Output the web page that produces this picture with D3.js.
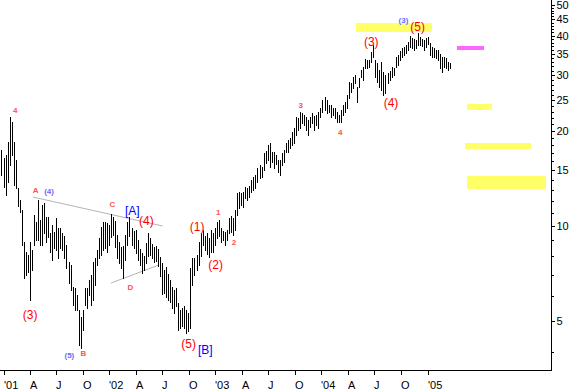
<!DOCTYPE html>
<html>
<head>
<meta charset="utf-8">
<script src="https://cdn.jsdelivr.net/npm/d3@7"></script>
<style>
  body { margin: 0; background: #fff; }
  svg { display: block; }
  text { font-family: Arial, "Liberation Sans", sans-serif; }
</style>
</head>
<body>
<svg width="571" height="390"></svg>
<script>
// weekly bars, first week starting 2000-12-25
var firstWeek = "2000-12-25";

var highs = [
  17.38, 16.40, 16.76, 18.42, 22.10, 21.31, 18.42, 16.16, 13.18, 12.07,
  11.22, 8.89, 8.27, 8.09, 8.89, 8.39, 10.82, 10.28, 12.07, 10.43,
  11.64, 11.81, 10.66, 10.66, 9.49, 10.06, 9.56, 10.59, 9.84, 9.84,
  9.49, 9.28, 8.70, 7.69, 7.52, 6.41, 6.36, 6.04, 5.42, 5.14,
  5.42, 6.36, 6.36, 6.74, 6.99, 7.69, 7.91, 8.39, 9.15, 9.91,
  10.28, 10.28, 10.20, 10.06, 10.90, 10.66, 10.35, 9.35, 8.89, 8.57,
  8.64, 9.35, 10.28, 10.66, 9.84, 9.63, 9.70, 9.02, 8.45, 8.21,
  8.03, 8.82, 9.49, 9.15, 8.76, 8.57, 8.64, 8.45, 7.97, 7.63,
  7.25, 7.41, 7.04, 6.74, 6.41, 6.27, 6.36, 5.70, 5.42, 5.50,
  5.58, 5.42, 5.30, 7.36, 7.91, 7.91, 8.09, 8.89, 9.49, 9.70,
  9.28, 9.49, 9.15, 9.70, 9.49, 9.84, 10.28, 10.43, 9.84, 9.63,
  9.56, 9.70, 10.59, 10.74, 10.59, 11.22, 12.70, 12.79, 12.70, 12.79,
  13.27, 13.18, 13.37, 13.97, 14.27, 14.48, 15.24, 15.58, 15.35, 17.00,
  17.25, 18.02, 18.28, 17.13, 17.13, 16.76, 16.16, 16.16, 17.00, 17.38,
  18.28, 18.69, 18.96, 19.81, 20.40, 22.10, 21.94, 22.92, 22.75, 22.43,
  22.10, 21.62, 22.10, 22.75, 22.27, 22.43, 22.92, 23.60, 25.02, 25.56,
  25.02, 24.12, 24.12, 23.60, 23.60, 22.92, 22.43, 23.26, 24.12, 24.66,
  25.94, 28.52, 28.31, 29.58, 30.02, 27.50, 29.37, 31.13, 31.82, 33.73,
  33.49, 33.49, 35.50, 37.36, 33.49, 32.76, 31.13, 33.00, 30.68, 30.02,
  30.45, 30.90, 31.82, 31.59, 34.23, 34.73, 35.76, 36.55, 36.82, 37.36,
  38.19, 39.90, 39.32, 39.03, 38.75, 40.77, 39.61, 39.03, 38.75, 39.32,
  39.61, 37.91, 36.82, 36.55, 36.02, 36.02, 34.98, 34.23, 34.23, 33.98,
  33.00, 32.76
];

var lows = [
  14.48, 13.27, 12.52, 13.77, 15.58, 16.76, 13.47, 13.18, 11.56, 11.06,
  8.70, 6.84, 6.99, 7.14, 5.83, 7.25, 8.70, 9.02, 9.02, 8.70,
  8.70, 9.49, 8.89, 9.21, 8.27, 7.80, 8.51, 8.39, 7.91, 8.51,
  8.39, 7.91, 7.36, 6.59, 6.27, 5.62, 5.42, 5.42, 4.20, 4.11,
  4.68, 5.62, 5.50, 6.04, 5.62, 5.83, 6.50, 7.52, 7.91, 8.09,
  8.39, 8.51, 8.27, 8.70, 9.21, 9.35, 8.57, 7.91, 7.63, 7.36,
  6.84, 7.80, 8.70, 9.28, 8.70, 8.51, 8.21, 7.80, 7.52, 7.09,
  7.25, 7.63, 8.03, 8.09, 7.91, 7.69, 7.74, 7.47, 6.94, 6.09,
  6.13, 5.95, 5.83, 5.75, 5.50, 5.30, 5.58, 4.68, 4.75, 4.82,
  4.75, 4.58, 4.65, 4.75, 6.50, 6.99, 7.25, 7.52, 8.03, 8.70,
  8.39, 8.15, 7.97, 8.27, 8.27, 8.70, 9.15, 9.28, 8.89, 9.02,
  8.70, 9.02, 9.49, 9.56, 9.35, 9.70, 10.82, 11.39, 11.64, 11.47,
  12.25, 12.07, 12.34, 12.79, 12.98, 13.18, 13.77, 14.17, 14.27, 15.02,
  15.81, 16.16, 15.35, 15.93, 15.24, 15.69, 14.80, 14.48, 15.58, 15.93,
  17.13, 17.13, 17.63, 18.02, 18.28, 19.38, 20.10, 20.40, 21.15, 20.85,
  20.10, 19.38, 20.55, 21.15, 20.10, 20.85, 20.40, 22.10, 22.92, 23.26,
  22.75, 22.92, 22.10, 22.43, 21.94, 21.31, 21.31, 21.31, 22.43, 22.92,
  23.60, 25.38, 26.52, 27.30, 28.31, 24.66, 27.50, 29.58, 28.94, 31.59,
  31.59, 31.82, 33.00, 34.23, 29.58, 28.52, 27.50, 26.91, 25.94, 26.33,
  28.31, 28.94, 29.58, 30.02, 31.82, 32.29, 33.49, 34.23, 34.73, 35.24,
  36.02, 36.82, 36.55, 36.02, 36.55, 37.36, 37.36, 37.09, 36.02, 36.82,
  37.63, 34.73, 34.23, 34.23, 33.98, 33.49, 31.59, 30.68, 31.82, 31.59,
  31.13, 31.59
];

var quarterLabels = ["'01", "A", "J", "O", "'02", "A", "J", "O", "'03", "A", "J", "O",
                     "'04", "A", "J", "O", "'05"];
var priceLabels = [5, 10, 15, 20, 25, 30, 35, 40, 45, 50];

// target zones: [start, end, top price, bottom price, colour]
var zones = [
  ["2004-04-28", "2005-01-16", 43.9, 41.0, "#ffff66"],
  ["2005-04-12", "2005-07-14", 37.1, 36.0, "#ff66ff"],
  ["2005-05-17", "2005-08-10", 24.3, 23.3, "#ffff66"],
  ["2005-05-10", "2005-12-23", 18.3, 17.5, "#ffff66"],
  ["2005-05-17", "2006-02-13", 14.4, 13.1, "#ffff66"]
];

// triangle lines
var trendLines = [
  ["2001-04-12", 12.34, "2002-07-03", 9.99],
  ["2002-01-06", 6.59, "2002-06-20", 7.52]
];

// wave counts: [text, date, price]
var bigRed = [
  ["(3)", "2001-04-03", 5.22], ["(4)", "2002-05-08", 10.35], ["(5)", "2002-10-01", 4.23],
  ["(1)", "2002-10-30", 9.95], ["(2)", "2003-01-02", 7.55], ["(3)", "2004-06-21", 38.3],
  ["(4)", "2004-08-28", 24.5], ["(5)", "2004-11-28", 42.75]
];
var bigBlue = [["[A]", "2002-03-21", 11.18], ["[B]", "2002-11-27", 4.05]];
var smallRed = [
  ["4", "2001-02-10", 23.26], ["A", "2001-04-22", 12.98], ["C", "2002-01-11", 11.72],
  ["D", "2002-03-14", 6.41], ["B", "2001-10-03", 3.96], ["1", "2003-01-11", 11.06],
  ["2", "2003-03-06", 8.89], ["3", "2003-10-22", 24.12], ["4", "2004-03-06", 19.81]
];
var smallBlue = [["(4)", "2001-06-07", 12.89], ["(5)", "2001-08-16", 3.90], ["(3)", "2004-10-10", 44.7]];

var svg = d3.select("svg"),
    parse = d3.utcParse("%Y-%m-%d");

var x = d3.scaleUtc()
    .domain([parse("2001-01-01"), parse("2006-03-04")])
    .range([3.5, 551.5]);
var y = d3.scaleLog()
    .domain([5, 50])
    .range([321, 5]);

var axisX = 551.5, axisY = 370.5;

// zones
svg.append("g").selectAll("rect")
  .data(zones)
  .enter().append("rect")
    .attr("x", d => Math.round(x(parse(d[0]))))
    .attr("width", d => Math.round(x(parse(d[1]))) - Math.round(x(parse(d[0]))))
    .attr("y", d => Math.round(y(d[2])))
    .attr("height", d => Math.round(y(d[3])) - Math.round(y(d[2])))
    .attr("fill", d => d[4]);

// trend lines
svg.append("g").selectAll("line")
  .data(trendLines)
  .enter().append("line")
    .attr("x1", d => x(parse(d[0]))).attr("y1", d => y(d[1]))
    .attr("x2", d => x(parse(d[2]))).attr("y2", d => y(d[3]))
    .attr("stroke", "#b4b4b4")
    .attr("stroke-width", 1);

// bars
var start = parse(firstWeek);
svg.append("g")
    .attr("shape-rendering", "crispEdges")
  .selectAll("line")
  .data(highs)
  .enter().append("line")
    .attr("x1", (d, i) => Math.round(x(d3.utcDay.offset(start, 7 * i))) + 0.5)
    .attr("x2", (d, i) => Math.round(x(d3.utcDay.offset(start, 7 * i))) + 0.5)
    .attr("y1", d => Math.round(y(d)))
    .attr("y2", (d, i) => Math.round(y(lows[i])) + 1)
    .attr("stroke", "#000")
    .attr("stroke-width", 1);

// axes
var ax = svg.append("g").attr("shape-rendering", "crispEdges");
ax.append("line").attr("x1", axisX).attr("x2", axisX).attr("y1", 0).attr("y2", axisY)
    .attr("stroke", "#000");
ax.append("line").attr("x1", 0).attr("x2", axisX).attr("y1", axisY).attr("y2", axisY)
    .attr("stroke", "#000");

// y ticks: every whole number, labels every 5
var minor = d3.range(4, 51);
ax.selectAll(".ytick")
  .data(minor)
  .enter().append("line")
    .attr("x1", axisX).attr("x2", d => axisX + (d % 5 === 0 ? 3 : 2))
    .attr("y1", d => Math.round(y(d)) + 0.5).attr("y2", d => Math.round(y(d)) + 0.5)
    .attr("stroke", "#000");
svg.selectAll(".ylab")
  .data(priceLabels)
  .enter().append("text")
    .attr("x", axisX + 5)
    .attr("y", d => y(d))
    .attr("dy", "0.36em")
    .attr("font-size", 11)
    .text(d => d);

// x ticks, quarterly
var quarters = d3.utcMonth.every(3).range(parse("2001-01-01"), parse("2005-01-02"));
ax.selectAll(".xtick")
  .data(quarters)
  .enter().append("line")
    .attr("x1", d => Math.round(x(d)) + 0.5).attr("x2", d => Math.round(x(d)) + 0.5)
    .attr("y1", axisY).attr("y2", axisY + 4)
    .attr("stroke", "#000");
svg.selectAll(".xlab")
  .data(quarters)
  .enter().append("text")
    .attr("x", d => Math.round(x(d)))
    .attr("y", 389)
    .attr("font-size", 11)
    .text((d, i) => quarterLabels[i]);

// labels
function labels(data, color, size, weight) {
  svg.append("g").selectAll("text")
    .data(data)
    .enter().append("text")
      .attr("x", d => x(parse(d[1])))
      .attr("y", d => y(d[2]))
      .attr("dy", "0.36em")
      .attr("text-anchor", "middle")
      .attr("font-size", size)
      .attr("font-weight", weight)
      .attr("fill", color)
      .text(d => d[0]);
}
labels(bigRed, "#ff0000", 12, "normal");
labels(bigBlue, "#0000ff", 12, "normal");
labels(smallRed, "#ff5050", 8, "bold");
labels(smallBlue, "#6a6aff", 8, "bold");
</script>
</body>
</html>
